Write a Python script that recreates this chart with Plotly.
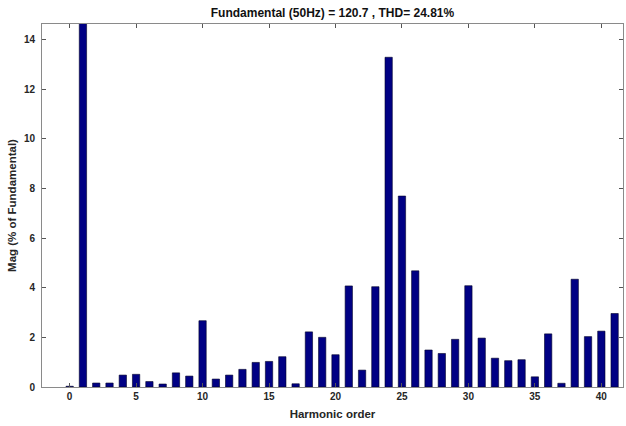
import plotly.graph_objects as go

# Harmonic spectrum, magnitudes in % of the fundamental (order 1 = 100 %)
harmonic_order = list(range(0, 42))
magnitude_pct = [
    0.03, 100.0, 0.16, 0.16, 0.48, 0.51, 0.22, 0.12, 0.57, 0.44,
    2.67, 0.32, 0.48, 0.71, 0.99, 1.03, 1.22, 0.13, 2.22, 2.00,
    1.30, 4.07, 0.68, 4.04, 13.28, 7.69, 4.68, 1.49, 1.35, 1.92,
    4.08, 1.97, 1.16, 1.06, 1.10, 0.41, 2.14, 0.15, 4.34, 2.03,
    2.25, 2.96,
]
x_ticks = [0, 5, 10, 15, 20, 25, 30, 35, 40]
y_ticks = [0, 2, 4, 6, 8, 10, 12, 14]

title_text = "Fundamental (50Hz) = 120.7 , THD= 24.81%"

FONT = "Liberation Sans"
AXIS_GREY = "#8a8a8a"

fig = go.Figure(
    go.Bar(
        x=harmonic_order,
        y=magnitude_pct,
        width=0.55,
        marker=dict(color="rgb(0,0,132)", line=dict(color="rgb(0,0,40)", width=0.6)),
    )
)

fig.update_layout(
    width=626,
    height=426,
    margin=dict(l=42, r=3, t=24, b=39),
    paper_bgcolor="white",
    plot_bgcolor="white",
    showlegend=False,
    title=dict(
        text="<b>" + title_text + "</b>",
        x=(42 + 623) / 2 / 626,
        xanchor="center",
        y=1 - 13 / 426,
        yanchor="middle",
        font=dict(family=FONT, size=12, color="#111111"),
    ),
    font=dict(family=FONT, color="#262626"),
)

fig.update_xaxes(
    range=[-2.08, 41.63],
    tickvals=x_ticks,
    ticktext=["<b>%d</b>" % t for t in x_ticks],
    ticks="inside",
    ticklen=4,
    tickcolor="#555555",
    tickfont=dict(family=FONT, size=10, color="#262626"),
    showline=True,
    linecolor=AXIS_GREY,
    linewidth=1,
    mirror="ticks",
    showgrid=False,
    zeroline=False,
    title=dict(
        text="<b>Harmonic order</b>",
        font=dict(family=FONT, size=11.5, color="#262626"),
        standoff=8,
    ),
)

fig.update_yaxes(
    range=[0, 14.62],
    tickvals=y_ticks,
    ticktext=["<b>%d</b>" % t for t in y_ticks],
    ticks="inside",
    ticklen=4,
    tickcolor="#555555",
    tickfont=dict(family=FONT, size=10, color="#262626"),
    ticklabelstandoff=4,
    showline=True,
    linecolor=AXIS_GREY,
    linewidth=1,
    mirror="ticks",
    showgrid=False,
    zeroline=False,
    title=dict(
        text="<b>Mag (% of Fundamental)</b>",
        font=dict(family=FONT, size=11.5, color="#262626"),
        standoff=4,
    ),
)

fig.write_html("out.html")
